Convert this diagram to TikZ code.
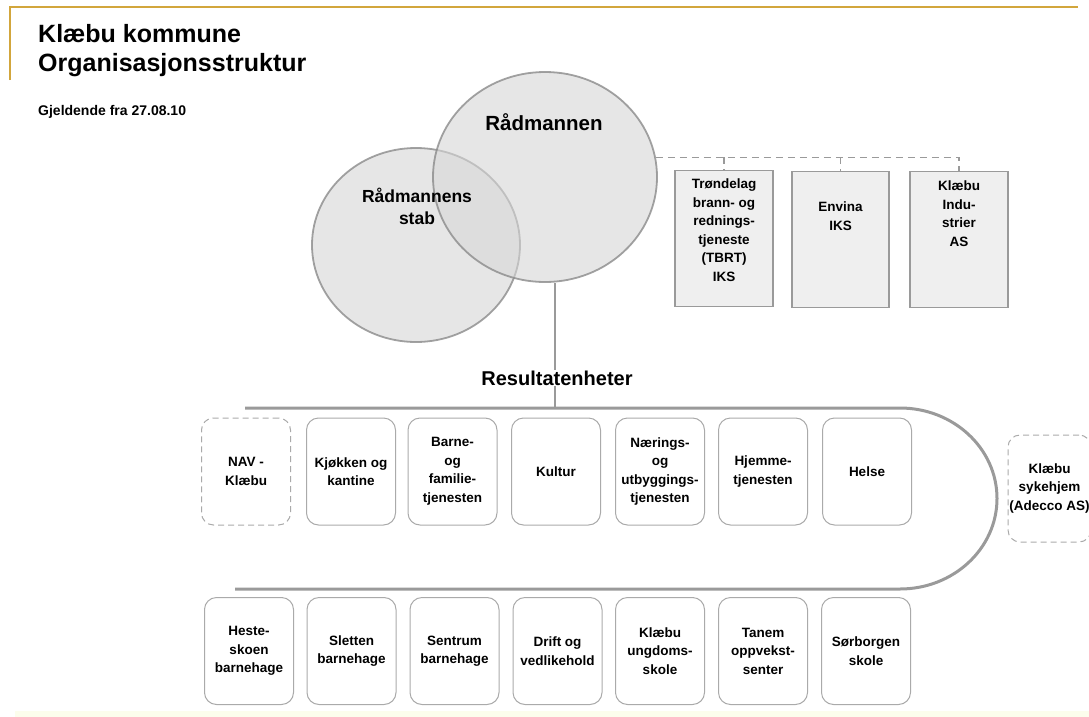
\documentclass[tikz,border=0pt]{standalone}
\usepackage{fontspec}
\setmainfont{Liberation Sans}
\usetikzlibrary{shapes.geometric}

\definecolor{headgold}{HTML}{D2A63C}
\definecolor{linegray}{HTML}{9A9A9A}
\definecolor{boxgray}{HTML}{AAAAAA}
\definecolor{circfill}{HTML}{D6D6D6}
\definecolor{compfill}{HTML}{EFEFEF}
\definecolor{bandfill}{HTML}{FCFDEC}

\tikzset{
  unitbox/.style={draw=boxgray, line width=1pt, rounded corners=12pt,
    minimum width=89pt, minimum height=107pt, inner sep=1pt, align=center,
    font=\bfseries\fontsize{13.5}{18.5}\selectfont},
  extbox/.style={unitbox, dash pattern=on 6pt off 4pt},
  compbox/.style={draw=linegray, line width=1.5pt, fill=compfill,
    minimum width=97pt, minimum height=136pt},
  comptext/.style={align=center, inner sep=0pt,
    font=\bfseries\fontsize{13.5}{18.5}\selectfont},
  leader/.style={ellipse, draw=linegray!90!black, line width=1.8pt, fill=circfill,
    fill opacity=0.6, draw opacity=0.8, text opacity=1, inner sep=0pt},
  bigtext/.style={font=\bfseries\fontsize{20}{22}\selectfont, align=center, inner sep=0pt}
}

\begin{document}
\begin{tikzpicture}[x=1pt, y=-1pt]
        \useasboundingbox (0,0) rectangle (1089,717);
        \fill[bandfill] (15,711) rectangle (1089,717);

        % Header
        \draw[headgold, line width=2pt] (10,80) -- (10,7) -- (1078,7);
        \node (title1) [anchor=base west, inner sep=0pt, font=\bfseries\fontsize{25}{28}\selectfont] at (38,43) {Klæbu kommune};
        \node (title2) [anchor=base west, inner sep=0pt, font=\bfseries\fontsize{25}{28}\selectfont] at (38,71) {Organisasjonsstruktur};
        \node (date) [anchor=base west, inner sep=0pt, font=\bfseries\fontsize{14}{16}\selectfont] at (38,115) {Gjeldende fra 27.08.10};

        % Leaders
        \node (stab) [leader, minimum width=208pt, minimum height=194pt] at (416,245) {};
        \node (raad) [leader, minimum width=224pt, minimum height=210pt] at (545,177) {};
        \node (raadtxt) [bigtext, font=\bfseries\fontsize{20.5}{22}\selectfont] at (544,122) {Rådmannen};
        \node (stabtxt) [bigtext, font=\bfseries\fontsize{17.5}{22}\selectfont] at (417,206) {Rådmannens\\stab};

        % Companies
        \node (tbrt) [compbox, minimum width=98pt] at (724,238.5) {};
        \node (envina) [compbox] at (840.5,239.5) {};
        \node (klind) [compbox, minimum width=98pt] at (959,239.5) {};
        \node (tbrttxt) [comptext] at (724,230) {Trøndelag\\brann- og\\rednings-\\tjeneste\\(TBRT)\\IKS};
        \node (envinatxt) [comptext] at (840.5,216) {Envina\\IKS};
        \node (klindtxt) [comptext] at (959,213.5) {Klæbu\\Indu-\\strier\\AS};

        % Result units, upper row
        \node (nav) [extbox] at (246,471.5) {NAV -\\Klæbu};
        \node (kantine) [unitbox] at (351,471.5) {Kjøkken og\\kantine};
        \node (barne) [unitbox] at (452.5,471.5) {Barne-\\og\\familie-\\tjenesten};
        \node (kultur) [unitbox] at (556,471.5) {Kultur};
        \node (naering) [unitbox] at (660,471.5) {Nærings-\\og\\utbyggings-\\tjenesten};
        \node (hjemme) [unitbox] at (763,471.5) {Hjemme-\\tjenesten};
        \node (helse) [unitbox] at (867,471.5) {Helse};
        \node (sykehjem) [extbox, minimum width=83pt] at (1049.5,488.5) {Klæbu\\sykehjem\\(Adecco AS)};

        % Result units, lower row
        \node (heste) [unitbox] at (249,651) {Heste-\\skoen\\barnehage};
        \node (sletten) [unitbox] at (351.5,651) {Sletten\\barnehage};
        \node (sentrum) [unitbox] at (454.5,651) {Sentrum\\barnehage};
        \node (drift) [unitbox] at (557.5,651) {Drift og\\vedlikehold};
        \node (ungdom) [unitbox] at (660,651) {Klæbu\\ungdoms-\\skole};
        \node (tanem) [unitbox] at (763,651) {Tanem\\oppvekst-\\senter};
        \node (sorborgen) [unitbox] at (866,651) {Sørborgen\\skole};

        % Edges
        \coordinate (bus) at (raad.10);
        \draw[linegray, line width=1.5pt, dashed, dash pattern=on 7pt off 5pt]
          (bus) -- (bus -| klind.north) -- (klind.north);
        \draw[linegray, line width=1.5pt, dashed, dash pattern=on 7pt off 5pt] (bus -| tbrt.north) -- (tbrt.north);
        \draw[linegray, line width=1.5pt, dashed, dash pattern=on 7pt off 5pt] (bus -| envina.north) -- (envina.north);

        \coordinate (rtop) at (555,408);
        \node (res) [bigtext] at (557,378) {Resultatenheter};
        \draw[linegray, line width=2pt] (raad.south -| rtop) -- (res.north -| rtop);
        \draw[linegray, line width=2pt] (res.south -| rtop) -- (rtop);
        \draw[linegray, line width=3pt] (245,408) -- (900,408)
          arc[start angle=-90, end angle=90, x radius=97, y radius=90.5] -- (235,589);
\end{tikzpicture}
\end{document}
